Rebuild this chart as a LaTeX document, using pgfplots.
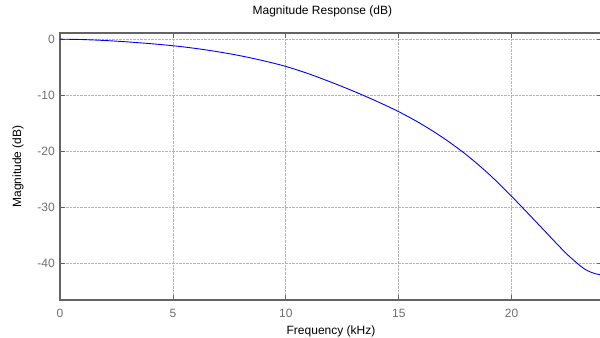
\documentclass[border=0pt]{standalone}
\usepackage{fontspec}
\setmainfont{Liberation Sans}
\usepackage{pgfplots}
\pgfplotsset{compat=1.18}
\definecolor{axgray}{RGB}{100,100,100}
\definecolor{ticklab}{RGB}{110,110,110}
\definecolor{gridgray}{RGB}{180,180,180}
\begin{document}
\fontsize{12bp}{14bp}\selectfont
\begin{tikzpicture}
\useasboundingbox (-60bp,-38bp) rectangle (540bp,300bp);
\begin{axis}[
  scale only axis, width=542bp, height=267bp,
  xmin=0, xmax=24, ymin=-46.5, ymax=1.1,
  xtick={0,5,10,15,20}, ytick={-40,-30,-20,-10,0},
  grid=major,
  major grid style={densely dotted, gridgray, line width=0.7bp},
  axis line style={axgray, line width=1.2bp},
  tick style={axgray, line width=0.8bp},
  major tick length=5bp,
  tick align=inside,
  /pgf/number format/assume math mode=true,
  tick label style={font=\fontsize{12bp}{14bp}\selectfont, text=ticklab},
  xticklabel style={anchor=center, yshift=-13bp},
  yticklabel style={anchor=east, inner sep=0pt, xshift=-5bp},
  xlabel={Frequency (kHz)}, ylabel={Magnitude (dB)},
  title={Magnitude Response (dB)},
  xlabel style={at={(axis description cs:0.5,-0.1187)}, anchor=center, font=\fontsize{12bp}{14bp}\selectfont},
  ylabel style={at={(axis description cs:-0.0775,0.5)}, rotate=0, anchor=center, font=\fontsize{12bp}{14bp}\selectfont},
  title style={at={(axis description cs:0.484,1.058)}, anchor=center, font=\fontsize{12bp}{14bp}\selectfont},
]
\addplot[color={rgb,255:red,0;green,0;blue,255}, line width=0.9bp, smooth, tension=0.5] coordinates {
(0,0) (1,-0.07) (2,-0.24) (3,-0.49) (4,-0.8) (5,-1.17) (6,-1.65) (7,-2.25) (8,-2.97)
(9,-3.84) (10,-4.86) (11,-6.16) (12,-7.66) (13,-9.28) (14,-11.03) (15,-12.93)
(16,-15.13) (17,-17.68) (18,-20.63) (19,-24.08) (20,-28.03) (21,-32.23) (22,-36.48)
(22.5,-38.53) (23,-40.28) (23.25,-41.03) (23.5,-41.53) (23.75,-41.86) (24,-42.03)
};
\end{axis}
\end{tikzpicture}
\end{document}
